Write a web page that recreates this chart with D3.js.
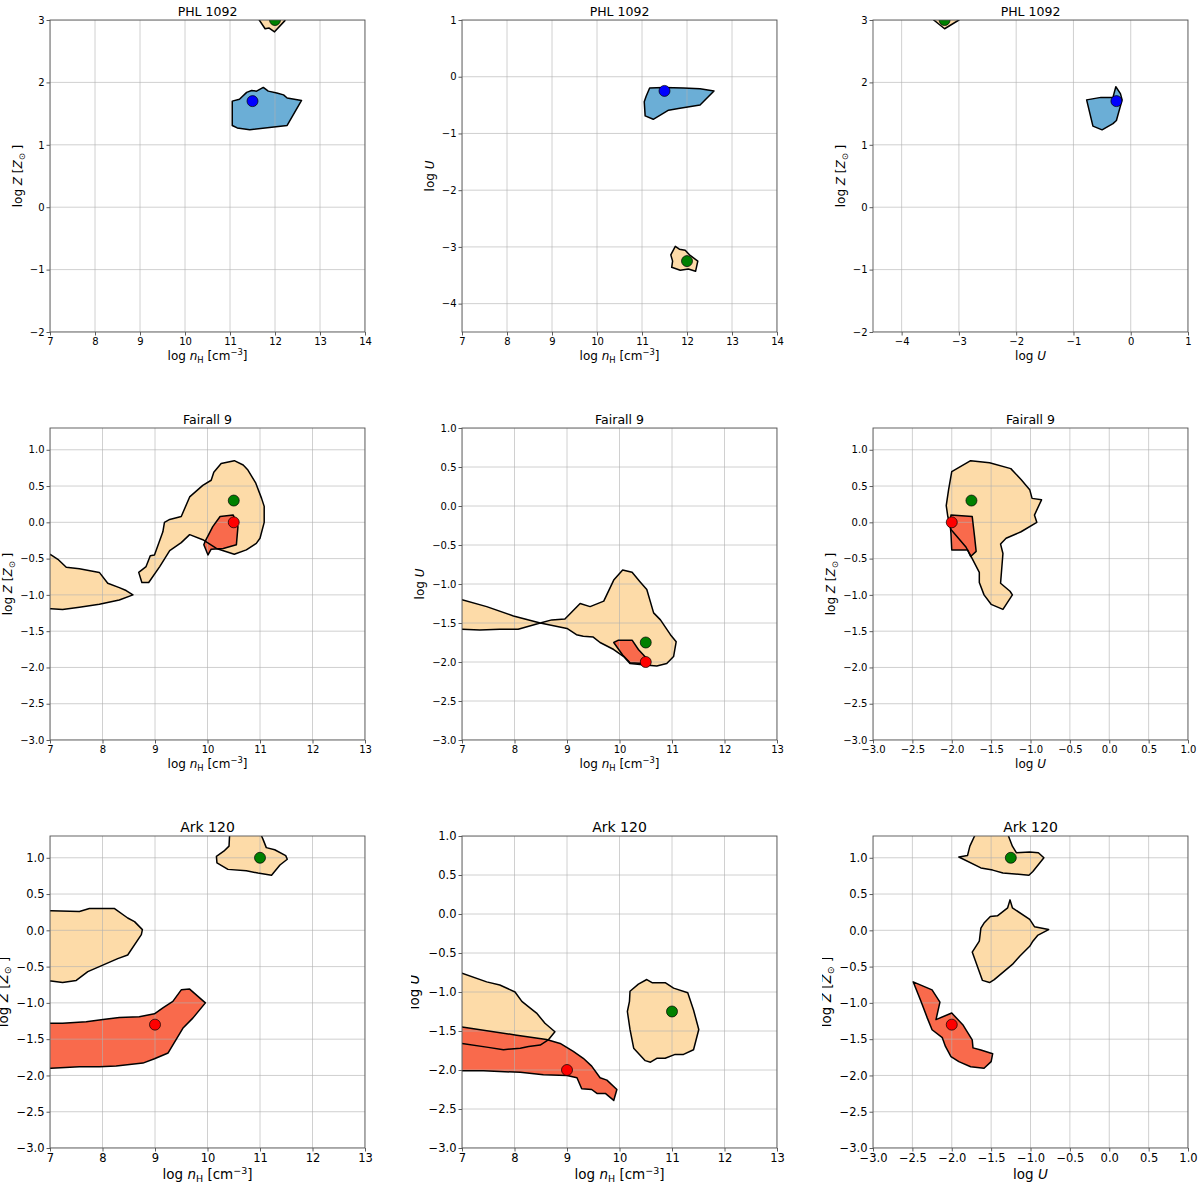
<!DOCTYPE html>
<html>
<head>
<meta charset="utf-8">
<script src="https://cdn.jsdelivr.net/npm/d3@7"></script>
<style>
  body { margin: 0; background: #fff; }
  svg { font-family: "DejaVu Sans", sans-serif; }
</style>
</head>
<body>
<svg id="chart" width="1200" height="1193"></svg>
<script>
// objects (one per row)
const objects = ["PHL 1092", "Fairall 9", "Ark 120"]

// best-fit points: object index, set, log nH, log U, log Z
const fitObj = [0, 0, 1, 1, 2, 2]
const fitSet = ["s1", "s2", "s2", "s3", "s2", "s3"]
const fitNH = [11.5, 12.0, 10.5, 10.5, 11.0, 9.0]
const fitU = [-0.25, -3.25, -1.75, -2.0, -1.25, -2.0]
const fitZ = [1.7, 3.0, 0.3, 0.0, 1.0, -1.3]

// ---- PHL 1092 regions
const phl_nZ_s1 = [[11.05,1.70],[11.21,1.73],[11.37,1.84],[11.48,1.87],[11.59,1.86],[11.74,1.92],[11.85,1.86],[12.04,1.83],[12.19,1.80],[12.27,1.75],[12.59,1.71],[12.27,1.31],[11.44,1.24],[11.16,1.27],[11.05,1.31]]
const phl_nZ_s2 = [[11.60,3.15],[11.65,3.0],[11.78,2.86],[11.87,2.87],[11.99,2.81],[12.22,2.99],[12.25,3.15]]
const phl_nU_s1 = [[11.17,-0.20],[11.48,-0.19],[11.92,-0.20],[12.29,-0.21],[12.60,-0.25],[12.29,-0.50],[11.81,-0.56],[11.59,-0.59],[11.25,-0.75],[11.07,-0.69],[11.05,-0.44],[11.09,-0.35]]
const phl_nU_s2 = [[11.74,-2.99],[11.83,-3.04],[11.96,-3.06],[12.07,-3.15],[12.24,-3.25],[12.19,-3.43],[12.03,-3.39],[11.85,-3.41],[11.66,-3.36],[11.68,-3.25],[11.64,-3.14]]
const phl_UZ_s1 = [[-0.77,1.72],[-0.52,1.76],[-0.31,1.76],[-0.26,1.93],[-0.18,1.82],[-0.15,1.72],[-0.25,1.39],[-0.31,1.34],[-0.50,1.24],[-0.66,1.30]]
const phl_UZ_s2 = [[-3.55,3.15],[-3.44,3.0],[-3.25,2.86],[-3.0,3.0],[-2.85,3.15]]

// ---- Fairall 9 regions
const f9_nZ_s2a = [[6.9,-0.40],[7.02,-0.45],[7.15,-0.51],[7.31,-0.62],[7.56,-0.64],[7.94,-0.69],[8.10,-0.84],[8.32,-0.90],[8.45,-0.94],[8.58,-1.00],[8.32,-1.07],[7.94,-1.13],[7.56,-1.17],[7.24,-1.20],[7.02,-1.19],[6.9,-1.19]]
const f9_nZ_s2b = [[8.69,-0.69],[8.75,-0.83],[8.88,-0.83],[9.09,-0.61],[9.28,-0.39],[9.50,-0.28],[9.66,-0.17],[9.91,-0.24],[10.17,-0.36],[10.51,-0.44],[10.74,-0.38],[10.93,-0.29],[11.00,-0.22],[11.08,0.00],[11.08,0.22],[11.03,0.33],[10.92,0.54],[10.77,0.72],[10.68,0.79],[10.51,0.85],[10.26,0.81],[10.12,0.69],[10.07,0.58],[9.91,0.51],[9.66,0.35],[9.50,0.08],[9.28,0.04],[9.18,0.00],[9.15,-0.13],[8.99,-0.45],[8.91,-0.46],[8.83,-0.61]]
const f9_nZ_s3 = [[9.95,-0.27],[10.10,-0.06],[10.24,0.08],[10.49,0.10],[10.58,-0.06],[10.55,-0.31],[10.30,-0.36],[10.07,-0.37],[10.01,-0.45],[9.93,-0.31]]
const f9_nU_s2 = [[6.9,-1.16],[7.0,-1.20],[7.47,-1.29],[7.98,-1.41],[8.49,-1.50],[9.00,-1.57],[9.18,-1.65],[9.31,-1.67],[9.50,-1.68],[9.63,-1.75],[9.89,-1.84],[10.08,-1.93],[10.20,-2.02],[10.49,-2.04],[10.71,-2.05],[10.90,-2.02],[11.03,-1.93],[11.08,-1.74],[10.97,-1.65],[10.78,-1.46],[10.65,-1.37],[10.52,-1.07],[10.39,-0.97],[10.24,-0.85],[10.06,-0.82],[9.89,-0.95],[9.70,-1.22],[9.44,-1.29],[9.25,-1.25],[8.96,-1.45],[8.71,-1.46],[8.49,-1.50],[8.07,-1.58],[7.72,-1.58],[7.34,-1.59],[7.0,-1.58],[6.9,-1.58]]
const f9_nU_s3 = [[9.89,-1.75],[9.98,-1.72],[10.24,-1.72],[10.36,-1.84],[10.51,-1.95],[10.46,-2.02],[10.20,-2.01],[10.06,-1.91]]
const f9_UZ_s2 = [[-2.0,0.70],[-1.76,0.85],[-1.52,0.82],[-1.25,0.74],[-1.12,0.59],[-1.01,0.45],[-0.98,0.33],[-0.86,0.31],[-0.95,0.10],[-0.92,0.00],[-1.12,-0.13],[-1.31,-0.22],[-1.38,-0.30],[-1.35,-0.43],[-1.38,-0.84],[-1.26,-0.95],[-1.23,-1.00],[-1.35,-1.20],[-1.50,-1.13],[-1.59,-1.00],[-1.65,-0.83],[-1.65,-0.69],[-1.76,-0.46],[-1.82,-0.34],[-2.01,-0.10],[-2.05,0.08],[-2.07,0.23],[-2.04,0.45]]
const f9_UZ_s3 = [[-2.02,-0.04],[-2.01,0.10],[-1.74,0.08],[-1.71,-0.20],[-1.69,-0.40],[-1.76,-0.47],[-1.80,-0.38],[-2.00,-0.38],[-2.01,-0.15]]

// ---- Ark 120 regions
const ark_nZ_s2a = [[10.43,1.45],[10.42,1.30],[10.41,1.16],[10.31,1.09],[10.17,1.02],[10.18,0.93],[10.39,0.84],[10.74,0.82],[10.96,0.79],[11.22,0.76],[11.38,0.90],[11.52,0.98],[11.49,1.03],[11.28,1.11],[11.12,1.14],[11.06,1.25],[11.03,1.30],[11.0,1.45]]
const ark_nZ_s2b = [[6.9,0.27],[7.02,0.27],[7.56,0.26],[7.75,0.30],[8.23,0.30],[8.48,0.17],[8.61,0.12],[8.76,0.01],[8.74,-0.06],[8.48,-0.34],[8.29,-0.39],[7.94,-0.50],[7.72,-0.57],[7.50,-0.69],[7.24,-0.72],[7.02,-0.70],[6.9,-0.70]]
const ark_nZ_s3 = [[6.9,-1.28],[7.02,-1.28],[7.24,-1.28],[7.69,-1.26],[8.01,-1.23],[8.32,-1.20],[8.70,-1.19],[8.99,-1.15],[9.15,-1.07],[9.34,-0.98],[9.50,-0.82],[9.66,-0.81],[9.96,-1.00],[9.72,-1.21],[9.53,-1.35],[9.25,-1.69],[8.99,-1.77],[8.77,-1.83],[8.26,-1.87],[7.94,-1.88],[7.56,-1.88],[7.02,-1.90],[6.9,-1.90]]
const ark_nU_s2a = [[6.9,-0.74],[7.0,-0.76],[7.47,-0.87],[7.72,-0.91],[8.01,-1.00],[8.14,-1.12],[8.27,-1.19],[8.42,-1.27],[8.58,-1.40],[8.77,-1.51],[8.65,-1.61],[8.49,-1.68],[8.27,-1.70],[8.11,-1.72],[7.79,-1.74],[7.50,-1.71],[7.0,-1.66],[6.9,-1.65]]
const ark_nU_s2b = [[10.20,-0.99],[10.36,-0.90],[10.52,-0.84],[10.62,-0.88],[10.87,-0.88],[11.03,-0.95],[11.30,-1.01],[11.41,-1.23],[11.51,-1.48],[11.41,-1.74],[11.22,-1.80],[11.06,-1.80],[10.87,-1.85],[10.71,-1.85],[10.59,-1.90],[10.49,-1.88],[10.27,-1.72],[10.20,-1.48],[10.15,-1.25],[10.19,-1.12]]
const ark_nU_s3 = [[6.9,-1.44],[7.0,-1.45],[8.01,-1.55],[8.61,-1.61],[8.87,-1.66],[9.12,-1.76],[9.31,-1.85],[9.47,-1.95],[9.63,-2.10],[9.76,-2.13],[9.95,-2.25],[9.89,-2.39],[9.73,-2.30],[9.57,-2.30],[9.47,-2.25],[9.28,-2.24],[9.19,-2.10],[9.00,-2.07],[8.55,-2.06],[8.11,-2.03],[7.41,-2.01],[7.0,-2.01],[6.9,-2.01]]
const ark_UZ_s2a = [[-1.70,1.45],[-1.71,1.30],[-1.77,1.16],[-1.80,1.03],[-1.91,1.01],[-1.63,0.86],[-1.48,0.83],[-1.35,0.79],[-1.02,0.76],[-0.97,0.81],[-0.83,1.00],[-0.90,1.07],[-1.01,1.08],[-1.18,1.07],[-1.23,1.16],[-1.28,1.30],[-1.30,1.45]]
const ark_UZ_s2b = [[-1.26,0.42],[-1.23,0.31],[-1.01,0.15],[-0.95,0.05],[-0.77,0.01],[-0.91,-0.07],[-0.97,-0.15],[-1.01,-0.22],[-1.14,-0.36],[-1.23,-0.47],[-1.46,-0.68],[-1.52,-0.72],[-1.61,-0.69],[-1.74,-0.30],[-1.65,-0.15],[-1.63,0.03],[-1.59,0.10],[-1.51,0.19],[-1.42,0.20],[-1.29,0.31]]
const ark_UZ_s3 = [[-2.49,-0.71],[-2.25,-0.82],[-2.15,-0.99],[-2.20,-1.23],[-2.00,-1.14],[-1.86,-1.30],[-1.74,-1.51],[-1.73,-1.62],[-1.63,-1.65],[-1.48,-1.70],[-1.50,-1.81],[-1.59,-1.90],[-1.76,-1.88],[-1.91,-1.81],[-2.01,-1.74],[-2.08,-1.60],[-2.12,-1.48],[-2.25,-1.37],[-2.31,-1.21],[-2.39,-0.98]]

// tick values
const ticksNH_top = [7, 8, 9, 10, 11, 12, 13, 14]
const ticksNH = [7, 8, 9, 10, 11, 12, 13]
const ticksZ_top = [-2, -1, 0, 1, 2, 3]
const ticksU_top = [-4, -3, -2, -1, 0, 1]
const ticksHalf = [-3, -2.5, -2, -1.5, -1, -0.5, 0, 0.5, 1]

const regions = [
    {obj: 0, plane: "nZ", set: "s2", pts: phl_nZ_s2}, {obj: 0, plane: "nZ", set: "s1", pts: phl_nZ_s1},
    {obj: 0, plane: "nU", set: "s2", pts: phl_nU_s2}, {obj: 0, plane: "nU", set: "s1", pts: phl_nU_s1},
    {obj: 0, plane: "UZ", set: "s2", pts: phl_UZ_s2}, {obj: 0, plane: "UZ", set: "s1", pts: phl_UZ_s1},
    {obj: 1, plane: "nZ", set: "s2", pts: f9_nZ_s2a}, {obj: 1, plane: "nZ", set: "s2", pts: f9_nZ_s2b}, {obj: 1, plane: "nZ", set: "s3", pts: f9_nZ_s3},
    {obj: 1, plane: "nU", set: "s2", pts: f9_nU_s2}, {obj: 1, plane: "nU", set: "s3", pts: f9_nU_s3},
    {obj: 1, plane: "UZ", set: "s2", pts: f9_UZ_s2}, {obj: 1, plane: "UZ", set: "s3", pts: f9_UZ_s3},
    {obj: 2, plane: "nZ", set: "s2", pts: ark_nZ_s2a}, {obj: 2, plane: "nZ", set: "s2", pts: ark_nZ_s2b}, {obj: 2, plane: "nZ", set: "s3", pts: ark_nZ_s3},
    {obj: 2, plane: "nU", set: "s2", pts: ark_nU_s2a}, {obj: 2, plane: "nU", set: "s2", pts: ark_nU_s2b}, {obj: 2, plane: "nU", set: "s3", pts: ark_nU_s3},
    {obj: 2, plane: "UZ", set: "s2", pts: ark_UZ_s2a}, {obj: 2, plane: "UZ", set: "s2", pts: ark_UZ_s2b}, {obj: 2, plane: "UZ", set: "s3", pts: ark_UZ_s3}
]

const fillColor = {s1: "#6baed6", s2: "#fddba8", s3: "#f96a4c"}
const dotColor = {s1: "blue", s2: "green", s3: "red"}

const colX = [50, 462, 873]
const rowY = [20, 428, 836]
const W = 315, H = 312
const planes = ["nZ", "nU", "UZ"]

const svg = d3.select("#chart")

function addNHLabel(t, gap) {
    t.append("tspan").text("log ")
    t.append("tspan").attr("font-style", "italic").text("n")
    t.append("tspan").attr("font-size", "0.7em").attr("dy", 3).text("H")
    t.append("tspan").attr("dy", -3).text(gap + "[cm")
    t.append("tspan").attr("font-size", "0.7em").attr("dy", -5).text("\u22123")
    t.append("tspan").attr("dy", 5).text("]")
}
function addULabel(t) {
    t.append("tspan").text("log ")
    t.append("tspan").attr("font-style", "italic").text("U")
}
function addZLabel(t) {
    t.append("tspan").text("log ")
    t.append("tspan").attr("font-style", "italic").text("Z")
    t.append("tspan").text(" [")
    t.append("tspan").attr("font-style", "italic").text("Z")
    t.append("tspan").attr("font-size", "0.7em").attr("dy", 3).text("\u2299")
    t.append("tspan").attr("dy", -3).text(" ]")
}

const yLabelX = [[22, 434, 845], [12, 424, 835], [8, 419, 831]]

for (let r = 0; r < 3; r++) {
    for (let c = 0; c < 3; c++) {
        const plane = planes[c]
        const top = r === 0
        const big = r === 2
        const tickFont = big ? 11.5 : 10
        const labFont = big ? 13.5 : 12

        let xDom, yDom, xTicks, yTicks, xFmt, yFmt
        if (top) {
            xFmt = yFmt = d3.format("d")
            xDom = plane === "UZ" ? [-4.5, 1] : [7, 14]
            xTicks = plane === "UZ" ? ticksU_top : ticksNH_top
            yDom = plane === "nU" ? [-4.5, 1] : [-2, 3]
            yTicks = plane === "nU" ? ticksU_top : ticksZ_top
        } else {
            yFmt = d3.format(".1f")
            xFmt = plane === "UZ" ? d3.format(".1f") : d3.format("d")
            xDom = plane === "UZ" ? [-3, 1] : [7, 13]
            xTicks = plane === "UZ" ? ticksHalf : ticksNH
            yDom = plane === "nU" ? [-3, 1] : [-3, 1.3]
            yTicks = ticksHalf
        }
        const x = d3.scaleLinear().domain(xDom).range([0, W])
        const y = d3.scaleLinear().domain(yDom).range([H, 0])

        const g = svg.append("g").attr("transform", `translate(${colX[c]},${rowY[r]})`)
        const clipId = `clip-${r}-${c}`
        g.append("clipPath").attr("id", clipId).append("rect").attr("width", W).attr("height", H)

        const plot = g.append("g").attr("clip-path", `url(#${clipId})`)
        const line = d3.line().x(p => x(p[0])).y(p => y(p[1]))

        const regs = regions.filter(d => d.obj === r && d.plane === plane)
        const ordered = regs.filter(d => d.set === "s2").concat(regs.filter(d => d.set !== "s2"))
        // fills first
        plot.selectAll("path.fill").data(ordered).join("path")
            .attr("class", "fill")
            .attr("d", d => line(d.pts) + "Z")
            .attr("fill", d => fillColor[d.set])
            .attr("stroke", "none")
        // grid over the fills
        plot.selectAll("line.gx").data(xTicks).join("line")
            .attr("class", "gx")
            .attr("x1", d => x(d)).attr("x2", d => x(d))
            .attr("y1", 0).attr("y2", H)
            .attr("stroke", "#b0b0b0").attr("stroke-opacity", 0.6).attr("stroke-width", 1)
        plot.selectAll("line.gy").data(yTicks).join("line")
            .attr("class", "gy")
            .attr("y1", d => y(d)).attr("y2", d => y(d))
            .attr("x1", 0).attr("x2", W)
            .attr("stroke", "#b0b0b0").attr("stroke-opacity", 0.6).attr("stroke-width", 1)
        // contour outlines
        plot.selectAll("path.edge").data(ordered).join("path")
            .attr("class", "edge")
            .attr("d", d => line(d.pts) + "Z")
            .attr("fill", "none")
            .attr("stroke", "#000")
            .attr("stroke-width", 1.5)
            .attr("stroke-linejoin", "round")

        // best-fit dots
        const fits = d3.range(fitObj.length).filter(i => fitObj[i] === r)
        const fx = i => plane === "UZ" ? fitU[i] : fitNH[i]
        const fy = i => plane === "nU" ? fitU[i] : fitZ[i]
        plot.selectAll("circle").data(fits).join("circle")
            .attr("cx", i => x(fx(i)))
            .attr("cy", i => y(fy(i)))
            .attr("r", 5.5)
            .attr("fill", i => dotColor[fitSet[i]])
            .attr("stroke", "#000")
            .attr("stroke-width", 0.7)

        // axes
        const xa = g.append("g").attr("transform", `translate(0,${H})`)
            .call(d3.axisBottom(x).tickValues(xTicks).tickFormat(xFmt).tickSize(3.5).tickSizeOuter(0).tickPadding(2))
        const ya = g.append("g")
            .call(d3.axisLeft(y).tickValues(yTicks).tickFormat(yFmt).tickSize(3.5).tickSizeOuter(0).tickPadding(2))
        for (const a of [xa, ya]) {
            a.select(".domain").remove()
            a.selectAll("line").attr("stroke", "#333").attr("stroke-width", 0.8)
            a.selectAll("text").attr("font-family", "DejaVu Sans").attr("font-size", tickFont).attr("fill", "#000")
        }
        g.append("rect").attr("width", W).attr("height", H)
            .attr("fill", "none").attr("stroke", "#555").attr("stroke-width", 0.9)

        // title
        g.append("text")
            .attr("x", W / 2).attr("y", -4)
            .attr("text-anchor", "middle")
            .attr("font-size", big ? 14 : 12.5)
            .text(objects[r])

        // x label
        const xl = g.append("text")
            .attr("x", W / 2).attr("y", H + (big ? 31 : 28))
            .attr("text-anchor", "middle")
            .attr("font-size", labFont)
        if (plane === "UZ") addULabel(xl)
        else addNHLabel(xl, plane === "nU" ? "  " : " ")

        // y label (bottom row is cropped on the left like the source)
        const lx = yLabelX[r][c] - colX[c]
        const lg = g.append("g")
        if (big && c > 0) {
            const cid = `yclip-${c}`
            g.append("clipPath").attr("id", cid).append("rect")
                .attr("x", (c === 1 ? 411 : 822) - colX[c]).attr("y", 0)
                .attr("width", 40).attr("height", H)
            lg.attr("clip-path", `url(#${cid})`)
        }
        const yl = lg.append("text")
            .attr("transform", `translate(${lx},${H / 2}) rotate(-90)`)
            .attr("text-anchor", "middle")
            .attr("font-size", labFont)
        if (plane === "nU") addULabel(yl)
        else addZLabel(yl)
    }
}
</script>
</body>
</html>
